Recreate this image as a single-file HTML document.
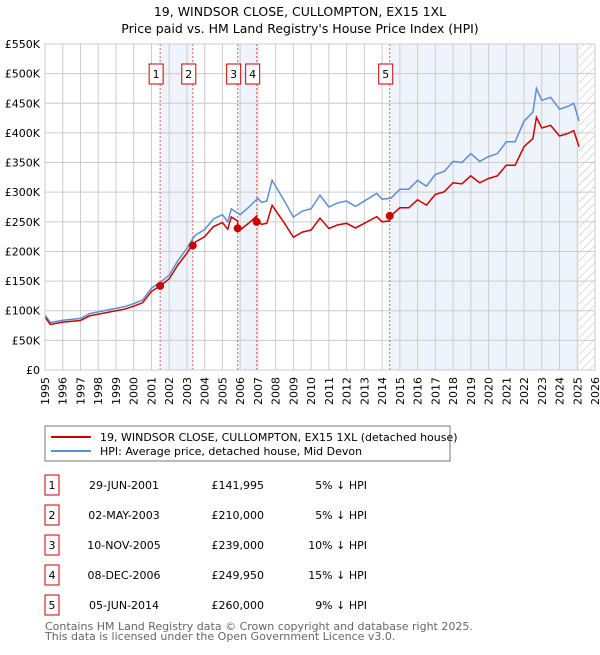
<!DOCTYPE html>
<html><head><meta charset="utf-8"><style>
body{margin:0;background:#fff;font-family:"Liberation Sans","DejaVu Sans",sans-serif;}
svg text{font-family:"DejaVu Sans","Liberation Sans",sans-serif;}
</style></head><body>
<svg id="chart" width="600" height="650" xmlns="http://www.w3.org/2000/svg">
<text x="300" y="16" text-anchor="middle" font-size="12.5">19, WINDSOR CLOSE, CULLOMPTON, EX15 1XL</text>
<text x="300" y="33" text-anchor="middle" font-size="12.5">Price paid vs. HM Land Registry's House Price Index (HPI)</text>
<defs><pattern id="hatch" width="6" height="6" patternUnits="userSpaceOnUse" patternTransform="rotate(45)"><line x1="0" y1="0" x2="0" y2="6" stroke="#bbb" stroke-width="1"/></pattern></defs>
<g id="plot"></g>
<rect x="45" y="426" width="405" height="35" fill="#fff" stroke="#777"/>
<line x1="51" y1="437" x2="91" y2="437" stroke="#cc0000" stroke-width="2"/>
<text x="100" y="441" font-size="11">19, WINDSOR CLOSE, CULLOMPTON, EX15 1XL (detached house)</text>
<line x1="51" y1="451" x2="91" y2="451" stroke="#5b8fd4" stroke-width="2"/>
<text x="100" y="455" font-size="11">HPI: Average price, detached house, Mid Devon</text>
<g id="table" font-size="11"></g>
<text x="45" y="630" font-size="11" fill="#666">Contains HM Land Registry data © Crown copyright and database right 2025.</text>
<text x="45" y="640" font-size="11" fill="#666">This data is licensed under the Open Government Licence v3.0.</text>
</svg>
<script>
const hpiYears=[1995,1995.3,1996,1997,1997.5,1998,1999,1999.5,2000,2000.5,2001,2001.5,2002,2002.5,2003,2003.3,2003.5,2004,2004.5,2005,2005.3,2005.5,2006,2006.5,2007,2007.2,2007.5,2007.8,2008,2008.5,2009,2009.5,2010,2010.5,2011,2011.5,2012,2012.5,2013,2013.7,2014,2014.5,2015,2015.5,2016,2016.5,2017,2017.5,2018,2018.5,2019,2019.5,2020,2020.5,2021,2021.5,2022,2022.5,2022.7,2023,2023.5,2024,2024.5,2024.8,2025.1];
const hpiValues=[93,80,84,87,95,98,104,107,112,118,138,148,160,185,205,220,228,237,255,262,250,272,262,275,290,283,285,320,310,285,258,268,272,295,275,282,285,276,285,298,288,290,305,305,320,310,330,335,352,350,365,352,360,365,385,385,420,435,475,455,460,440,445,450,420];
const saleLabels=["1","2","3","4","5"];
const saleDates=[2001.49,2003.33,2005.86,2006.93,2014.43];
const salePrices=[141995,210000,239000,249950,260000];
const saleDateText=["29-JUN-2001","02-MAY-2003","10-NOV-2005","08-DEC-2006","05-JUN-2014"];
const salePriceText=["£141,995","£210,000","£239,000","£249,950","£260,000"];
const saleDiff=[5,5,10,15,9];
const yTicks=[0,50,100,150,200,250,300,350,400,450,500,550];
const xTicks=[1995,1996,1997,1998,1999,2000,2001,2002,2003,2004,2005,2006,2007,2008,2009,2010,2011,2012,2013,2014,2015,2016,2017,2018,2019,2020,2021,2022,2023,2024,2025,2026];

const X0=45,X1=595,Y0=370,Y1=44;
const xs=y=>X0+(y-1995)/(2026-1995)*(X1-X0);
const ys=v=>Y0-v/550*(Y0-Y1);
const NS="http://www.w3.org/2000/svg";
const plot=document.getElementById('plot');
function mk(tag,attrs,parent){const e=document.createElementNS(NS,tag);for(const k in attrs)e.setAttribute(k,attrs[k]);(parent||plot).appendChild(e);return e;}
const shadeStart=[saleDates[0],saleDates[2],saleDates[4]];
const shadeEnd=[saleDates[1],saleDates[3],2025.1];
for(let i=0;i<shadeStart.length;i++){
 const r=mk('rect',{x:xs(shadeStart[i]),y:Y1,width:xs(shadeEnd[i])-xs(shadeStart[i]),height:Y0-Y1,fill:'#eef3fc'});
 
 
}
const hz=mk('rect',{x:xs(2025.1),y:Y1,width:X1-xs(2025.1),height:Y0-Y1,fill:'url(#hatch)'});


xTicks.forEach(t=>{
 const l=mk('line',{x1:xs(t),x2:xs(t),y1:Y1,y2:Y0,stroke:'#ccc','stroke-width':1});
 
 
 const tx=mk('text',{x:0,y:0,'font-size':11,'text-anchor':'end',transform:`translate(${xs(t)+4},377) rotate(-90)`});
 tx.textContent=t;
 
 
});
yTicks.forEach(t=>{
 const l=mk('line',{x1:X0,x2:X1,y1:ys(t),y2:ys(t),stroke:'#ccc','stroke-width':1});
 
 
 const tx=mk('text',{x:40,y:ys(t)+4,'font-size':11,'text-anchor':'end'});
 tx.textContent=t===0?'£0':'£'+t+'K';
 
 
});
saleDates.forEach(d=>{
 const l=mk('line',{x1:xs(d),x2:xs(d),y1:Y1,y2:Y0,stroke:'#e06060','stroke-width':1,'stroke-dasharray':'2,2'});
 
 
});
function interp(y){for(let i=1;i<hpiYears.length;i++){if(y<=hpiYears[i]){const f=(y-hpiYears[i-1])/(hpiYears[i]-hpiYears[i-1]);return hpiValues[i-1]+f*(hpiValues[i]-hpiValues[i-1]);}}return hpiValues[hpiValues.length-1];}
const hp=mk('polyline',{points:hpiYears.map((y,i)=>xs(y)+','+ys(hpiValues[i])).join(' '),fill:'none',stroke:'#5b8fd4','stroke-width':1.5});


function ratioAt(y){let k=0;for(let i=0;i<saleDates.length;i++)if(y>=saleDates[i])k=i;return salePrices[k]/1000/interp(saleDates[k]);}
const pts=[];
hpiYears.forEach((y,i)=>{
 for(let j=0;j<saleDates.length;j++){if(i>0&&saleDates[j]>hpiYears[i-1]&&saleDates[j]<=y){const a=saleDates[j]-0.001;pts.push([a,interp(a)*ratioAt(a)]);pts.push([saleDates[j],salePrices[j]/1000]);}}
 pts.push([y,hpiValues[i]*ratioAt(y)]);
});
const pp=mk('polyline',{points:pts.map(p=>xs(p[0])+','+ys(p[1])).join(' '),fill:'none',stroke:'#cc0000','stroke-width':1.5});


saleDates.forEach((d,i)=>{
 const c=mk('circle',{cx:xs(d),cy:ys(salePrices[i]/1000),r:4,fill:'#cc0000'});
 
 
 const cx=xs(d)-4;
 const r=mk('rect',{x:cx-7,y:64,width:14,height:20,fill:'#fff',stroke:'#cc0000','stroke-width':1});
 
 
 const t=mk('text',{x:cx,y:78,'font-size':11,'text-anchor':'middle'});
 t.textContent=saleLabels[i];
 
 
});
const bd=mk('rect',{x:X0,y:Y1,width:X1-X0,height:Y0-Y1,fill:'none',stroke:'#ccc'});


const tb=document.getElementById('table');
saleLabels.forEach((s,i)=>{
 const y=483+i*30;
 const r=mk('rect',{x:45,y:y-8,width:14,height:20,fill:'#fff',stroke:'#cc0000'},tb);
 
 
 const vals=[[52,'middle',s],[124,'middle',saleDateText[i]],[264,'end',salePriceText[i]],[367,'end',saleDiff[i]+'% ↓ HPI']];
 vals.forEach(v=>{
  const t=mk('text',{x:v[0],y:y+6,'text-anchor':v[1]},tb);
  t.textContent=v[2];
  
  
 });
});
</script>
</body></html>
